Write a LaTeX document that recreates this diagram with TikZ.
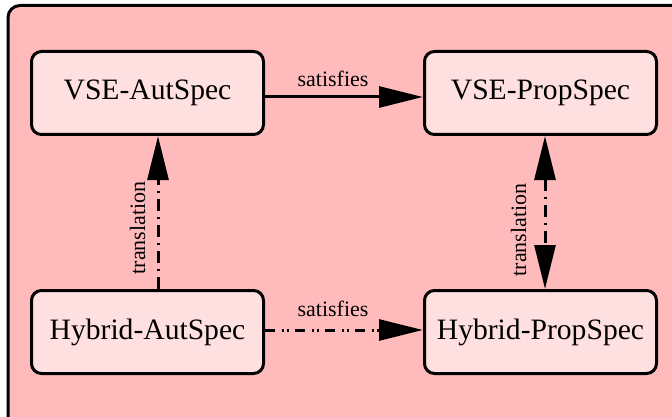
\documentclass[tikz,border=0pt]{standalone}
\usepackage{fontspec}
\setmainfont{Liberation Serif}
\usetikzlibrary{arrows.meta}
\definecolor{framepink}{RGB}{255,187,187}
\definecolor{boxpink}{RGB}{255,224,224}
\tikzset{
  specbox/.style={draw, line width=3pt, fill=boxpink, rounded corners=10pt,
    minimum width=232pt, minimum height=83pt, inner sep=0pt,
    font=\fontsize{29.6}{32}\selectfont},
  rel/.style={line width=3pt, -{Triangle[length=44pt,width=21pt]}},
  birel/.style={line width=3pt, {Triangle[length=44pt,width=21pt]}-{Triangle[length=44pt,width=21pt]}},
  dashdot/.style={dash pattern=on 12pt off 6pt on 2pt off 6pt},
  dashdotdot/.style={dash pattern=on 10pt off 7pt on 2pt off 3pt on 2pt off 6pt},
  lbl/.style={font=\fontsize{22}{24}\selectfont, inner sep=0pt, anchor=base},
}
\begin{document}
\begin{tikzpicture}[x=1pt, y=-1pt]
  \useasboundingbox (0,0) rectangle (672,417);
  \clip (0,0) rectangle (672,417);
  \fill[white] (0,0) rectangle (672,417);
  % outer frame
  \draw[line width=3pt, fill=framepink, rounded corners=12pt] (8,5.5) rectangle (700,440);

  % specifications
  \node[specbox] (vA) at (147.5,93) {VSE-AutSpec};
  \node[specbox] (vP) at (540.5,93) {VSE-PropSpec};
  \node[specbox] (hA) at (147.5,332) {Hybrid-AutSpec};
  \node[specbox] (hP) at (540.5,332) {Hybrid-PropSpec};

  % connector lanes
  \coordinate (topy) at (0,97);
  \coordinate (boty) at (0,330);
  \coordinate (leftx) at (158,0);
  \coordinate (rightx) at (545,0);

  % satisfaction relations
  \draw[rel] (vA.east |- topy) -- (vP.west |- topy);
  \draw[rel, dashdotdot] (hA.east |- boty) -- (hP.west |- boty);

  % translations
  \draw[rel, dashdot] (hA.north -| leftx) -- (vA.south -| leftx);
  \draw[birel, dashdot] (vP.south -| rightx) -- (hP.north -| rightx);

  % labels
  \node[lbl] (s1) at (333,87) {satisfies};
  \node[lbl] (s2) at (333,316) {satisfies};
  \node[lbl, rotate=90] (t1) at (145,228) {translation};
  \node[lbl, rotate=90] (t2) at (526,230) {translation};
\end{tikzpicture}
\end{document}
